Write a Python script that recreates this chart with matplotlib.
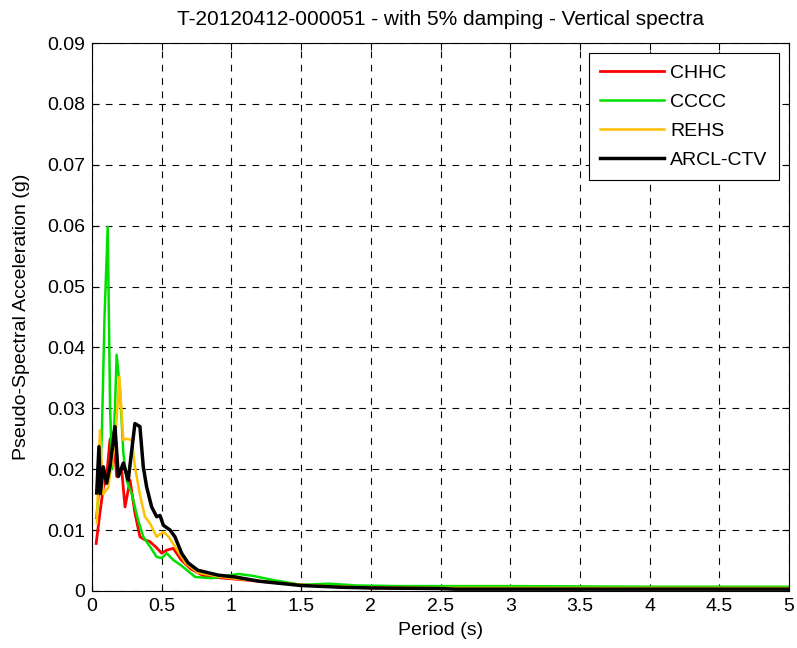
import numpy as np
import matplotlib.pyplot as plt

plt.rcParams['font.family'] = ['Liberation Sans', 'DejaVu Sans']

# periods (s) and pseudo-spectral acceleration (g)
t_chhc = [0.03, 0.057, 0.081, 0.105, 0.129, 0.153, 0.177, 0.213, 0.237, 0.273, 0.308, 0.344,
          0.38, 0.416, 0.464, 0.5, 0.536, 0.583, 0.64, 0.71, 0.8, 0.9, 1.0, 1.2, 1.5, 1.8,
          2.0, 2.5, 3.0, 4.0, 5.0]
a_chhc = [0.0078, 0.0128, 0.0169, 0.0188, 0.0248, 0.026, 0.0188, 0.0199, 0.0138, 0.0182, 0.0128, 0.0089,
          0.0084, 0.0081, 0.0071, 0.0062, 0.0067, 0.007, 0.0051, 0.0036, 0.0025, 0.0022, 0.002, 0.0016, 0.001, 0.0007,
          0.0005, 0.0004, 0.0004, 0.0004, 0.0004]

t_cccc = [0.03, 0.05, 0.07, 0.09, 0.113, 0.13, 0.145, 0.165, 0.177, 0.2, 0.225, 0.25,
          0.285, 0.33, 0.368, 0.416, 0.464, 0.5, 0.536, 0.583, 0.64, 0.74, 0.86, 0.95, 1.05,
          1.15, 1.3, 1.5, 1.7, 1.9, 2.2, 2.5, 3.0, 4.0, 5.0]
a_cccc = [0.012, 0.016, 0.025, 0.045, 0.0598, 0.03, 0.02, 0.03, 0.0388, 0.0335, 0.0227, 0.018,
          0.016, 0.0117, 0.0089, 0.0073, 0.0056, 0.0054, 0.0062, 0.0051, 0.0042, 0.0023, 0.0021, 0.0024, 0.0028,
          0.0025, 0.0018, 0.001, 0.0012, 0.0009, 0.0008, 0.0008, 0.0008, 0.0007, 0.0007]

t_rehs = [0.035, 0.057, 0.081, 0.117, 0.141, 0.165, 0.196, 0.225, 0.25, 0.285, 0.308, 0.344,
          0.38, 0.416, 0.464, 0.512, 0.55, 0.595, 0.67, 0.76, 0.9, 1.0, 1.2, 1.5, 1.8, 2.0,
          2.5, 3.0, 4.0, 5.0]
a_rehs = [0.0111, 0.0264, 0.0159, 0.017, 0.021, 0.024, 0.0352, 0.0248, 0.025, 0.0248, 0.0204, 0.0158,
          0.0122, 0.0111, 0.0089, 0.0097, 0.0089, 0.0073, 0.0046, 0.003, 0.0024, 0.0021, 0.0016, 0.001, 0.0007, 0.0006,
          0.0005, 0.0005, 0.0005, 0.0005]

t_arcl = [0.034, 0.05, 0.06, 0.081, 0.105, 0.129, 0.165, 0.189, 0.225, 0.26, 0.308, 0.344,
          0.368, 0.392, 0.428, 0.464, 0.488, 0.512, 0.56, 0.595, 0.643, 0.69, 0.76, 0.906, 1.026,
          1.2, 1.5, 1.8, 2.0, 2.5, 2.6, 3.0, 4.0, 5.0]
a_arcl = [0.0161, 0.0237, 0.016, 0.0204, 0.0177, 0.0204, 0.027, 0.0188, 0.021, 0.0182, 0.0275, 0.027,
          0.0204, 0.0171, 0.0138, 0.0122, 0.0124, 0.0108, 0.01, 0.0089, 0.0062, 0.0046, 0.0034, 0.0026, 0.0023,
          0.0016, 0.0009, 0.0006, 0.0005, 0.0004, 0.0003, 0.0003, 0.0003, 0.0003]

fig = plt.figure(figsize=(7.97, 6.48), dpi=100)
ax = fig.add_axes([0.1154, 0.088, 0.8746, 0.8456])

ax.plot(t_chhc, a_chhc, color='#ff0000', lw=2, label='CHHC')
ax.plot(t_cccc, a_cccc, color='#00e000', lw=1.8, label='CCCC')
ax.plot(t_rehs, a_rehs, color='#ffc000', lw=1.8, label='REHS')
ax.plot(t_arcl, a_arcl, color='black', lw=2.5, label='ARCL-CTV')

ax.set_xlim(0, 5)
ax.set_ylim(0, 0.09)
ax.set_xticks(np.arange(0, 5.01, 0.5))
ax.set_xticklabels(['0', '0.5', '1', '1.5', '2', '2.5', '3', '3.5', '4', '4.5', '5'])
ax.set_yticks(np.arange(0, 0.0901, 0.01))
ax.set_yticklabels(['0', '0.01', '0.02', '0.03', '0.04', '0.05', '0.06', '0.07', '0.08', '0.09'])
ax.tick_params(direction='in', top=True, right=True, labelsize=14, length=5, pad=5)
ax.grid(True, color='black', linestyle=(0, (6, 6)), linewidth=0.8)

ax.set_title('T-20120412-000051 - with 5% damping - Vertical spectra', fontsize=15, pad=13)
ax.set_xlabel('Period (s)', fontsize=14, labelpad=5)
ax.set_ylabel('Pseudo-Spectral Acceleration (g)', fontsize=14, labelpad=12)

leg = ax.legend(loc='upper right', fontsize=14, fancybox=False, framealpha=1,
                edgecolor='black', handlelength=3.3, handletextpad=0.3,
                labelspacing=0.58, borderpad=0.6)
leg.get_frame().set_linewidth(0.8)

fig.savefig('out.png', dpi=100)
